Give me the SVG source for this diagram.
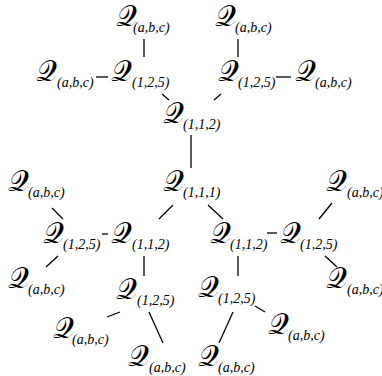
<svg xmlns="http://www.w3.org/2000/svg" width="382" height="376" viewBox="0 0 382 376">
<style>
.q{font-family:"DejaVu Serif","Noto Sans","DejaVu Sans",serif;font-size:29px;fill:#000}
.s{font-family:"Liberation Serif",serif;font-style:italic;font-size:14px;fill:#000}
#edges line{stroke:#000;stroke-width:1.3}
</style>
<rect width="382" height="376" fill="#fff"/>
<g id="edges">
<line x1="144" y1="39" x2="144" y2="57"/>
<line x1="238" y1="39" x2="238" y2="57"/>
<line x1="96" y1="77" x2="108" y2="77"/>
<line x1="276" y1="77" x2="291" y2="77"/>
<line x1="162" y1="94" x2="169" y2="100"/>
<line x1="221" y1="94" x2="214" y2="100"/>
<line x1="191" y1="135" x2="191" y2="168"/>
<line x1="52" y1="208" x2="63" y2="219"/>
<line x1="159" y1="219" x2="173" y2="205"/>
<line x1="208" y1="205" x2="223" y2="219"/>
<line x1="332" y1="203" x2="319" y2="219"/>
<line x1="102" y1="234" x2="108" y2="234"/>
<line x1="267" y1="233" x2="277" y2="233"/>
<line x1="58" y1="256" x2="46" y2="267"/>
<line x1="144" y1="256" x2="144" y2="276"/>
<line x1="238" y1="256" x2="238" y2="276"/>
<line x1="325" y1="256" x2="337" y2="267"/>
<line x1="107" y1="317" x2="120" y2="312"/>
<line x1="149" y1="312" x2="163" y2="343"/>
<line x1="233" y1="312" x2="219" y2="343"/>
<line x1="255" y1="306" x2="265" y2="312"/>
</g>
<g id="n1"><text class="q" x="116" y="26">𝒬</text><text class="s" x="133" y="32">(a,b,c)</text></g>
<g id="n2"><text class="q" x="215" y="26">𝒬</text><text class="s" x="235" y="32">(a,b,c)</text></g>
<g id="n3"><text class="q" x="36" y="81">𝒬</text><text class="s" x="57" y="87">(a,b,c)</text></g>
<g id="n4"><text class="q" x="111" y="81">𝒬</text><text class="s" x="132" y="87">(1,2,5)</text></g>
<g id="n5"><text class="q" x="218" y="81">𝒬</text><text class="s" x="238" y="87">(1,2,5)</text></g>
<g id="n6"><text class="q" x="295" y="81">𝒬</text><text class="s" x="315" y="87">(a,b,c)</text></g>
<g id="n7"><text class="q" x="163" y="123">𝒬</text><text class="s" x="183" y="129">(1,1,2)</text></g>
<g id="n8"><text class="q" x="8" y="191">𝒬</text><text class="s" x="28" y="197">(a,b,c)</text></g>
<g id="n9"><text class="q" x="163" y="191">𝒬</text><text class="s" x="183" y="197">(1,1,1)</text></g>
<g id="n10"><text class="q" x="326" y="191">𝒬</text><text class="s" x="347" y="197">(a,b,c)</text></g>
<g id="n11"><text class="q" x="43" y="243">𝒬</text><text class="s" x="63" y="249">(1,2,5)</text></g>
<g id="n12"><text class="q" x="111" y="243">𝒬</text><text class="s" x="132" y="249">(1,1,2)</text></g>
<g id="n13"><text class="q" x="210" y="243">𝒬</text><text class="s" x="230" y="249">(1,1,2)</text></g>
<g id="n14"><text class="q" x="280" y="243">𝒬</text><text class="s" x="300" y="249">(1,2,5)</text></g>
<g id="n15"><text class="q" x="8" y="288">𝒬</text><text class="s" x="28" y="294">(a,b,c)</text></g>
<g id="n16"><text class="q" x="326" y="288">𝒬</text><text class="s" x="347" y="294">(a,b,c)</text></g>
<g id="n17"><text class="q" x="116" y="299">𝒬</text><text class="s" x="137" y="305">(1,2,5)</text></g>
<g id="n18"><text class="q" x="198" y="297">𝒬</text><text class="s" x="218" y="303">(1,2,5)</text></g>
<g id="n19"><text class="q" x="53" y="338">𝒬</text><text class="s" x="72" y="344">(a,b,c)</text></g>
<g id="n20"><text class="q" x="268" y="334">𝒬</text><text class="s" x="288" y="340">(a,b,c)</text></g>
<g id="n21"><text class="q" x="128" y="366">𝒬</text><text class="s" x="149" y="372">(a,b,c)</text></g>
<g id="n22"><text class="q" x="198" y="366">𝒬</text><text class="s" x="218" y="372">(a,b,c)</text></g>
</svg>
